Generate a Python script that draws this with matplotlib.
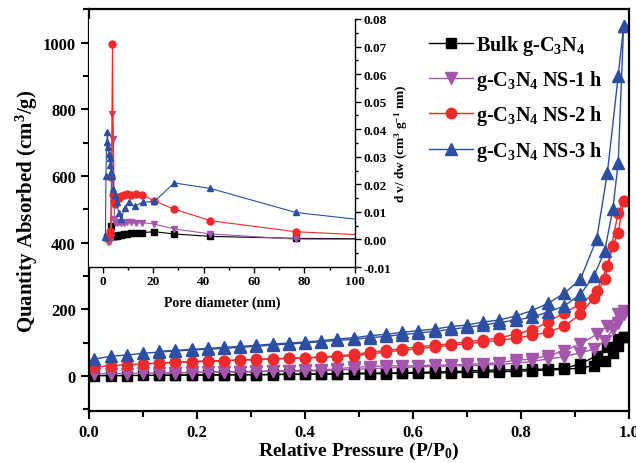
import numpy as np
import matplotlib
matplotlib.use("Agg")
import matplotlib.pyplot as plt
from matplotlib.ticker import MultipleLocator

plt.rcParams['font.family'] = ['Liberation Serif', 'DejaVu Serif']
plt.rcParams['font.weight'] = 'bold'
plt.rcParams['mathtext.fontset'] = 'custom'
plt.rcParams['mathtext.rm'] = 'Liberation Serif:bold'
plt.rcParams['mathtext.bf'] = 'Liberation Serif:bold'
plt.rcParams['mathtext.it'] = 'Liberation Serif:bold'
plt.rcParams['mathtext.default'] = 'rm'

# ---- isotherm data (relative pressure P/P0) ----
p_ads = [0.01, 0.04, 0.07, 0.10, 0.13, 0.16, 0.19, 0.22, 0.25, 0.28, 0.31, 0.34,
         0.37, 0.40, 0.43, 0.46, 0.49, 0.52, 0.55, 0.58, 0.61, 0.64, 0.67, 0.70,
         0.73, 0.76, 0.79, 0.82, 0.85, 0.88, 0.91, 0.935, 0.955, 0.97, 0.98, 0.99]
p_des = [0.99, 0.98, 0.96, 0.94, 0.91, 0.88, 0.85, 0.82, 0.79, 0.76, 0.73, 0.70,
         0.67, 0.64, 0.61, 0.58, 0.55, 0.52, 0.49, 0.46, 0.43, 0.40, 0.37, 0.34,
         0.31, 0.28, 0.25, 0.22, 0.19, 0.16, 0.13]

bulk_ads = [1, 1, 1, 2, 2, 2, 3, 3, 3, 4, 4, 4, 5, 5, 5, 6, 6, 7, 7, 8, 8, 9,
            10, 11, 12, 13, 14, 16, 18, 20, 24, 31, 45, 70, 90, 116]
bulk_des = [116, 111, 86, 61, 36, 23, 21, 20, 19, 18, 17, 15, 13, 12, 11, 10,
            9, 9, 8, 7, 6, 6, 5, 5, 4, 4, 4, 3, 3, 3, 2]

ns1_ads = [6, 7, 7, 8, 9, 10, 10, 11, 12, 12, 13, 14, 14, 15, 16, 18, 20, 22,
           24, 26, 27, 29, 30, 31, 33, 35, 38, 44, 51, 58, 70, 80, 106, 140, 160, 185]
ns1_des = [196, 186, 150, 125, 96, 76, 61, 51, 47, 40, 37, 35, 33, 33, 31, 30,
           31, 28, 26, 22, 18, 17, 16, 15, 14, 13, 13, 12, 11, 10, 9]

ns2_ads = [26, 31, 34, 36, 39, 41, 43, 44, 46, 48, 49, 51, 53, 54, 56, 58, 61,
           66, 72, 77, 82, 87, 92, 97, 102, 107, 113, 122, 131, 150, 185, 235,
           290, 390, 430, 525]
ns2_des = [525, 490, 330, 255, 215, 190, 162, 138, 126, 114, 108, 103, 97, 92,
           88, 82, 77, 71, 65, 60, 57, 55, 53, 52, 50, 48, 46, 45, 43, 41, 39]

ns3_ads = [51, 59, 63, 68, 72, 75, 78, 80, 83, 86, 89, 93, 96, 99, 103, 107,
           110, 115, 119, 124, 129, 134, 140, 146, 153, 160, 168, 176, 192, 210,
           245, 300, 375, 500, 640, 1050]
ns3_des = [1050, 900, 610, 410, 290, 248, 218, 196, 180, 168, 162, 153, 148,
           141, 136, 131, 125, 121, 115, 111, 106, 102, 99, 96, 92, 89, 86, 83,
           80, 77, 74]

# ---- pore size distribution (inset) ----
pore_d = [1.5, 2.0, 2.5, 3.0, 3.4, 3.8, 4.2, 4.6, 5.0, 5.7, 6.3, 7.0, 8.2,
          9.6, 11.2, 13.0, 15.6, 20.4, 28.3, 42.7, 76.5, 130]
psd_bulk = [0.0008, 0.0008, 0.0010, 0.0012, 0.0050, 0.0013, 0.0012, 0.0013,
            0.0013, 0.0014, 0.0015, 0.0017, 0.0020, 0.0021, 0.0022, 0.0023,
            0.0025, 0.0028, 0.0020, 0.0011, 0.0004, 0.0001]
psd_ns1 = [0.0002, -0.0008, -0.0010, -0.0005, 0.0010, 0.0455, 0.0364, 0.0074,
           0.0065, 0.0060, 0.0062, 0.0060, 0.0061, 0.0062, 0.0062, 0.0060,
           0.0061, 0.0056, 0.0038, 0.0020, 0.0001, -0.0001]
psd_ns2 = [0.0005, 0.0008, 0.0015, 0.0030, 0.0225, 0.0709, 0.0160, 0.0140,
           0.0130, 0.0153, 0.0150, 0.0159, 0.0162, 0.0165, 0.0160, 0.0165,
           0.0162, 0.0140, 0.0110, 0.0068, 0.0028, 0.0005]
pore_d3 = [1.0, 1.2, 1.5, 1.8, 2.1, 2.4, 2.7, 3.0, 3.3, 3.7, 4.2, 4.8, 5.5,
           6.3, 7.3, 8.6, 10.2, 12.6, 15.8, 20.4, 28.3, 42.7, 76.5, 130]
psd_ns3 = [0.0010, 0.0230, 0.0352, 0.0389, 0.0335, 0.0310, 0.0295, 0.0270,
           0.0245, 0.0231, 0.0183, 0.0160, 0.0135, 0.0095, 0.0074, 0.0115,
           0.0135, 0.0120, 0.0135, 0.0138, 0.0205, 0.0185, 0.0098, 0.0043]

labels = ['Bulk g-C$_3$N$_4$', 'g-C$_3$N$_4$ NS-1 h',
          'g-C$_3$N$_4$ NS-2 h', 'g-C$_3$N$_4$ NS-3 h']
colors = ['#000000', '#a456ac', '#ee2a2a', '#2d4fa3']
markers = ['s', 'v', 'o', '^']

fig = plt.figure(figsize=(6.36, 4.64), dpi=100)
ax = fig.add_axes([0.140, 0.112, 0.849, 0.866])

series = [(bulk_ads, bulk_des), (ns1_ads, ns1_des), (ns2_ads, ns2_des), (ns3_ads, ns3_des)]
for (ads, des), c, m, lab in zip(series, colors, markers, labels):
    ms = 8.5 if m in ('^', 'v') else 7.5
    ax.plot(p_ads, ads, color=c, marker=m, ms=ms, lw=1.0, label=lab)
    ax.plot(p_des, des, color=c, marker=m, ms=ms, lw=1.0)

ax.set_xlim(0, 1.0)
ax.set_ylim(-105, 1100)
ax.xaxis.set_major_locator(MultipleLocator(0.2))
ax.xaxis.set_minor_locator(MultipleLocator(0.1))
ax.yaxis.set_major_locator(MultipleLocator(200))
ax.yaxis.set_minor_locator(MultipleLocator(100))
ax.tick_params(which='both', direction='out', top=False, right=False, width=1.5)
ax.tick_params(which='major', length=6, labelsize=12)
ax.tick_params(which='minor', length=4)
for s in ax.spines.values():
    s.set_linewidth(1.6)
ax.xaxis.set_major_formatter(matplotlib.ticker.FormatStrFormatter('%.1f'))
ax.set_xlabel('Relative Pressure (P/P$_0$)', fontsize=14, fontweight='bold', labelpad=0)
ax.set_ylabel('Quantity Absorbed (cm$^3$/g)', fontsize=15, fontweight='bold', labelpad=2)

leg = ax.legend(loc='upper left', bbox_to_anchor=(0.615, 0.96), frameon=False,
                fontsize=14.5, handlelength=2.2, labelspacing=0.55, handletextpad=0.15,
                borderaxespad=0)

# ---- inset ----
ins = fig.add_axes([0.140, 0.4224, 0.418, 0.5345])
ins.plot(pore_d, psd_bulk, color=colors[0], marker='s', ms=4.5, lw=0.8)
ins.plot(pore_d, psd_ns1, color=colors[1], marker='v', ms=5, lw=0.8)
ins.plot(pore_d, psd_ns2, color=colors[2], marker='o', ms=5, lw=0.8)
ins.plot(pore_d3, psd_ns3, color=colors[3], marker='^', ms=5, lw=0.8)
ins.set_xlim(-5.5, 100)
ins.set_ylim(-0.01, 0.08)
ins.spines['top'].set_visible(False)
ins.spines['left'].set_visible(False)
ins.yaxis.tick_right()
ins.yaxis.set_label_position('right')
ins.xaxis.set_major_locator(MultipleLocator(20))
ins.xaxis.set_minor_locator(MultipleLocator(10))
ins.yaxis.set_major_locator(MultipleLocator(0.01))
ins.yaxis.set_minor_locator(MultipleLocator(0.005))
ins.yaxis.set_major_formatter(matplotlib.ticker.FormatStrFormatter('%.2f'))
ins.tick_params(which='both', direction='out', width=1.0, labelsize=9.5, pad=2)
ins.tick_params(which='major', length=4)
ins.tick_params(which='minor', length=2.5)
ins.tick_params(axis='y', left=False)
for s in ins.spines.values():
    s.set_linewidth(1.0)
ins.set_xlabel('Pore diameter (nm)', fontsize=10, fontweight='bold', labelpad=6)
ins.set_ylabel('d v/ dw (cm$^3$ g$^{-1}$ nm)', fontsize=9.5, fontweight='bold', labelpad=1)

fig.savefig('out.png', dpi=100)
